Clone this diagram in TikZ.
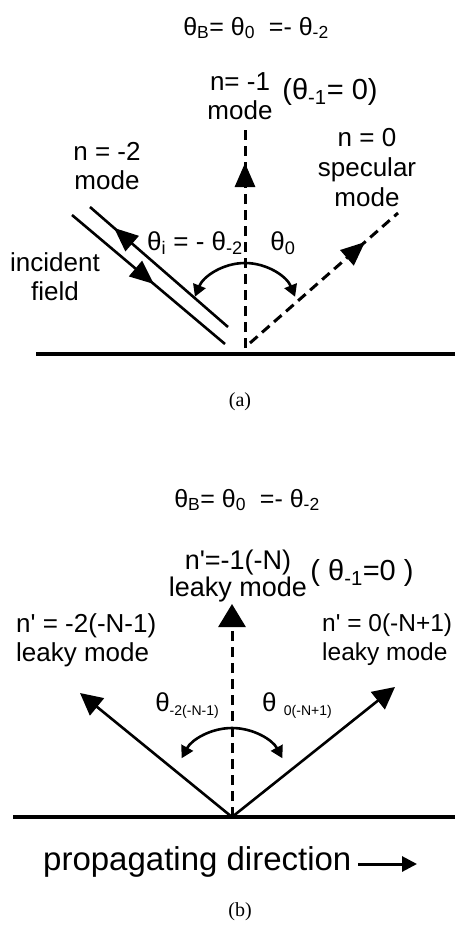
\documentclass[tikz,border=0pt]{standalone}
\usepackage{fontspec}
\setmainfont{Liberation Sans}
\newfontfamily\capfont{Liberation Serif}
\usepackage{tikz}
\usetikzlibrary{arrows.meta,decorations.markings}
\tikzset{
  ln/.style={line width=2.6pt},
  gnd/.style={line width=3.6pt},
  dsh/.style={line width=3pt,dash pattern=on 10pt off 6pt},
  bigar/.style={-{Triangle[length=22pt,width=22pt]}},
  smar/.style={-{Triangle[length=12pt,width=13pt]},line width=2.6pt},
  midar/.style={postaction={decorate},decoration={markings,mark=at position #1 with {\arrow{Triangle[length=24pt,width=20pt]}}}},
  lbl/.style={font=\fontsize{26}{29}\selectfont,align=center,inner sep=0pt},
  lblb/.style={font=\fontsize{26}{29}\selectfont,align=left,inner sep=0pt},
  big/.style={font=\fontsize{29}{30}\selectfont,inner sep=0pt},
  capt/.style={font=\capfont\fontsize{20}{22}\selectfont,inner sep=0pt}
}
\newcommand{\thsb}[1]{θ\textsubscript{#1}}
\newcommand{\lowsb}[1]{\raisebox{-4pt}{\fontsize{14}{14}\selectfont #1}}

\begin{document}
\begin{tikzpicture}[x=1pt,y=-1pt]
\useasboundingbox (0,0) rectangle (455,936);
% (a)
\coordinate (gA0) at (36,354);
\coordinate (gA1) at (455,354);
\coordinate (hitA) at (245,348);
\coordinate (topA) at (245,125);
\coordinate (specA0) at (250,343);
\coordinate (specA1) at (398,213);
\coordinate (incA0) at (72,215);
\coordinate (incA1) at (225,344);
\coordinate (refA0) at (228,327);
\coordinate (refA1) at (90,207);
\coordinate (arcA) at (245,263);
\draw[gnd] (gA0) -- (gA1);
\draw[dsh,midar=185pt] (hitA) -- (topA);
\draw[dsh,midar=153pt] (specA0) -- (specA1);
\draw[ln,midar=107pt] (incA0) -- (incA1);
\draw[ln,midar=151pt] (refA0) -- (refA1);
\draw[smar] (arcA) arc[start angle=270,end angle=202,radius=54];
\draw[smar] (arcA) arc[start angle=270,end angle=338,radius=54];
\node[lbl,font=\fontsize{25}{29}\selectfont] (eqA) at (256,28) {\thsb{B}= \thsb{0} \ =- \thsb{-2}};
\node[lbl] (modeM1) at (240,96) {n= -1\\mode};
\node[big] (thM1A) at (330,92) {(\thsb{-1}= 0)};
\node[lbl] (modeM2) at (107,166) {n = -2\\mode};
\node[lbl,font=\fontsize{26}{30}\selectfont] (modeP0) at (367,168) {n = 0\\specular\\mode};
\node[lbl] (incid) at (55,277) {incident\\field};
\node[lbl] (thIA) at (195,243) {\thsb{i} = - \thsb{-2}};
\node[lbl] (th0A) at (283,243) {\thsb{0}};
\node[capt] (capA) at (240,402) {(a)};
% (b)
\coordinate (gB0) at (13,817);
\coordinate (gB1) at (455,817);
\coordinate (hitB) at (232,817);
\coordinate (topB) at (232,604);
\coordinate (lfB) at (80,693);
\coordinate (rtB) at (395,687);
\coordinate (arcB) at (232,728);
\draw[gnd] (gB0) -- (gB1);
\draw[dsh,-{Triangle[length=23pt,width=27pt]}] (hitB) -- (topB);
\draw[ln,bigar] (hitB) -- (lfB);
\draw[ln,bigar] (hitB) -- (rtB);
\draw[smar] (arcB) arc[start angle=270,end angle=208,radius=57];
\draw[smar] (arcB) arc[start angle=270,end angle=332,radius=57];
\node[lbl,font=\fontsize{25}{29}\selectfont] (eqB) at (247,500) {\thsb{B}= \thsb{0} \ =- \thsb{-2}};
\node[lblb,align=center,font=\fontsize{27}{25}\selectfont] (leakM1) at (238,576) {n\textquotesingle=-1(-N)\\leaky mode};
\node[big] (thM1B) at (362,573) {( \thsb{-1}=0 )};
\node[lblb,anchor=west] (leakM2) at (16,640) {n\textquotesingle\ = -2(-N-1)\\leaky mode};
\node[lblb,anchor=west,font=\fontsize{24.5}{29}\selectfont] (leakP0) at (322,640) {n\textquotesingle\ = 0(-N+1)\\leaky mode};
\node[lbl] (thL) at (187,706) {θ\lowsb{-2(-N-1)}};
\node[lbl] (thR) at (297,706) {θ \lowsb{0(-N+1)}};
\node[lbl,font=\fontsize{33}{35}\selectfont,anchor=west] (prop) at (43,862) {propagating direction};
\coordinate (propBeg) at (358,864);
\coordinate (propEnd) at (417,864);
\draw[line width=3pt,-{Triangle[length=15pt,width=15pt]}] (propBeg) -- (propEnd);
\node[capt] (capB) at (240,912) {(b)};
\end{tikzpicture}
\end{document}
